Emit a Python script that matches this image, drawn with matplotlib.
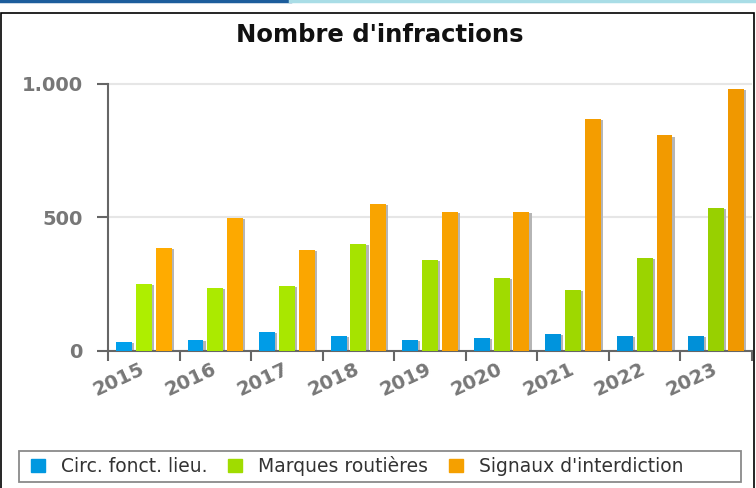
import numpy as np
import matplotlib.pyplot as plt
import matplotlib.transforms as mtransforms
from matplotlib.colors import to_rgb
from matplotlib.lines import Line2D
from matplotlib.patches import Rectangle

years = ["2015", "2016", "2017", "2018", "2019", "2020", "2021", "2022", "2023"]
circ = [34, 41, 71, 56, 41, 49, 64, 56, 56]
marques = [251, 236, 243, 400, 341, 273, 228, 348, 537]
signaux = [386, 498, 378, 551, 521, 521, 868, 807, 980]
series_names = ["Circ. fonct. lieu.", "Marques routières", "Signaux d'interdiction"]

W, H = 756, 488
fig = plt.figure(figsize=(W / 100, H / 100), dpi=100)

# page decoration: top bar and frame
fig.add_artist(Line2D([0, 290 / W], [1 - 1 / H, 1 - 1 / H], color="#1c5d9c", lw=2.5))
fig.add_artist(Line2D([290 / W, 1], [1 - 1 / H, 1 - 1 / H], color="#a9dde6", lw=2.5))
fig.add_artist(Rectangle((1 / W, -0.05), (W - 3) / W, 1.05 - 13 / H,
                         fill=False, ec="black", lw=1.2))

ax = fig.add_axes([108 / W, (H - 351) / H, (752 - 108) / W, (351 - 70) / H])

# colours shade slightly from left to right, like the original gradient
left_cols = ["#00a0ec", "#aeee00", "#ffab00"]
right_cols = ["#0090d8", "#98d000", "#f09800"]
x = np.arange(len(years))
step = 20 / 72
width = 16 / 72
for i, vals in enumerate([circ, marques, signaux]):
    off = (i - 1) * step
    c0, c1 = np.array(to_rgb(left_cols[i])), np.array(to_rgb(right_cols[i]))
    cols = [tuple(c0 + (c1 - c0) * k / (len(years) - 1)) for k in range(len(years))]
    # drop shadow
    ax.bar(x + off + 0.03, np.array(vals) - 4, width, bottom=0, color="#b5b5b5", zorder=2)
    ax.bar(x + off, vals, width, color=cols, zorder=3, label=series_names[i])

ax.set_xlim(-0.5, len(years) - 0.5)
ax.set_ylim(0, 1052)
ax.set_yticks([0, 500, 1000])
ax.set_yticklabels(["0", "500", "1.000"])
ax.yaxis.grid(True, color="#e6e6e6", lw=1.5, zorder=0)
ax.set_axisbelow(True)

ax.set_xticks(x)
ax.set_xticklabels(years, rotation=25, ha="right", rotation_mode="anchor")
ax.set_xticks(np.arange(len(years) + 1) - 0.5, minor=True)
ax.tick_params(axis="x", which="major", length=0, pad=6)
ax.tick_params(axis="x", which="minor", length=7, width=1.5, color="#666666", direction="out")
ax.tick_params(axis="y", length=8, width=1.5, color="#666666", pad=10)
shift = mtransforms.ScaledTranslation(-4 / 100, 0, fig.dpi_scale_trans)
for lab in ax.get_xticklabels():
    lab.set_transform(lab.get_transform() + shift)
for lab in ax.get_xticklabels() + ax.get_yticklabels():
    lab.set_fontweight("bold")
    lab.set_fontsize(14)
    lab.set_color("#777777")

for s in ["top", "right"]:
    ax.spines[s].set_visible(False)
for s in ["left", "bottom"]:
    ax.spines[s].set_color("#666666")
    ax.spines[s].set_linewidth(1.5)
ax.spines["left"].set_bounds(0, 1000)

fig.text(380 / W, 1 - 35 / H, "Nombre d'infractions", ha="center", va="center",
         fontsize=17.5, fontweight="bold", color="#111111")

# legend frame drawn separately so it can span the full width
fig.add_artist(Rectangle((19 / W, 1 - 482 / H), (741 - 19) / W, 31 / H,
                         fill=False, ec="#8a8a8a", lw=1.3))
handles = [Rectangle((0, 0), 1, 1, color=c) for c in ["#0098e0", "#a0dc00", "#f5a000"]]
leg = fig.legend(handles, series_names, loc="center left",
                 bbox_to_anchor=(31 / W, 1 - 466 / H), ncol=3, frameon=False,
                 handlelength=0.75, handleheight=0.75, handletextpad=0.85,
                 columnspacing=1.1, borderpad=0, borderaxespad=0,
                 prop={"size": 13.5})
for t in leg.get_texts():
    t.set_color("#333333")

fig.savefig("out.png", dpi=100)
